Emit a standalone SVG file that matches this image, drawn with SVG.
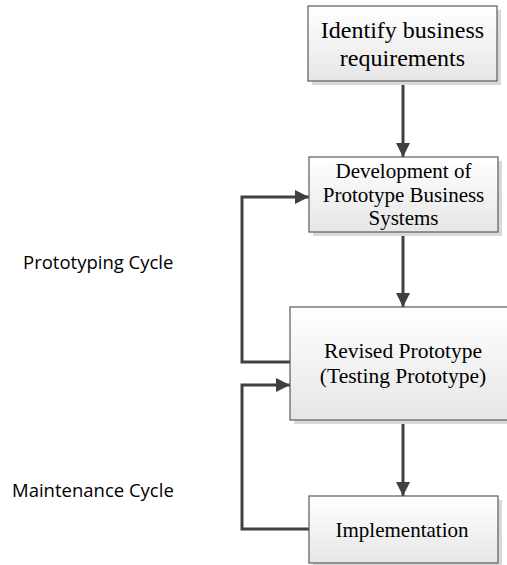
<svg xmlns="http://www.w3.org/2000/svg" width="507" height="565" viewBox="0 0 507 565">
  <defs>
    <linearGradient id="boxfill" x1="0" y1="0" x2="0" y2="1">
      <stop offset="0" stop-color="#ffffff"/>
      <stop offset="1" stop-color="#e6e6e6"/>
    </linearGradient>
    <marker id="arrow" viewBox="0 0 14 14" refX="14" refY="7" markerWidth="14" markerHeight="14" markerUnits="userSpaceOnUse" orient="auto">
      <path d="M0,0 L14,7 L0,14 Z" fill="#404040"/>
    </marker>
  </defs>
  <style>
    .box { fill: url(#boxfill); stroke: #5a5a5a; stroke-width: 1.2; }
    .shadow { fill: #d9d9d9; }
    .t { font-family: "Liberation Serif", "Times New Roman", serif; fill: #000000; text-anchor: middle; }
    .lbl { font-family: "Open Sans", "Noto Sans", sans-serif; font-size: 18.5px; fill: #000000; }
    .conn { fill: none; stroke: #404040; stroke-width: 3; }
  </style>
  <rect width="507" height="565" fill="#ffffff"/>

  <g id="connectors">
    <path class="conn" d="M403,81 L403,157" marker-end="url(#arrow)"/>
    <path class="conn" d="M403,232 L403,307" marker-end="url(#arrow)"/>
    <path class="conn" d="M403,420 L403,496" marker-end="url(#arrow)"/>
    <path class="conn" d="M290,362 L242,362 L242,197 L309,197" marker-end="url(#arrow)"/>
    <path class="conn" d="M309,529 L242,529 L242,385 L290,385" marker-end="url(#arrow)"/>
  </g>

  <g id="node-identify">
    <rect class="shadow" x="312" y="10" width="189" height="75"/>
    <rect class="box" x="308" y="6" width="189" height="75"/>
    <text class="t" font-size="24" x="402.5" y="37.5">Identify business</text>
    <text class="t" font-size="24" x="402.5" y="65.5">requirements</text>
  </g>

  <g id="node-development">
    <rect class="shadow" x="313" y="161" width="189" height="75"/>
    <rect class="box" x="309" y="157" width="189" height="75"/>
    <text class="t" font-size="21" x="403.5" y="178">Development of</text>
    <text class="t" font-size="21" x="403.5" y="201.5">Prototype Business</text>
    <text class="t" font-size="21" x="403.5" y="225">Systems</text>
  </g>

  <g id="node-revised">
    <rect class="shadow" x="294" y="311" width="226" height="113"/>
    <rect class="box" x="290" y="307" width="226" height="113"/>
    <text class="t" font-size="21.5" x="403" y="358">Revised Prototype</text>
    <text class="t" font-size="21.5" x="403" y="383">(Testing Prototype)</text>
  </g>

  <g id="node-implementation">
    <rect class="shadow" x="313" y="500" width="189" height="67"/>
    <rect class="box" x="309" y="496" width="189" height="67"/>
    <text class="t" font-size="21" x="402" y="537">Implementation</text>
  </g>

  <g id="label-prototyping">
    <text class="lbl" x="23" y="269">Prototyping Cycle</text>
  </g>
  <g id="label-maintenance">
    <text class="lbl" x="12" y="497">Maintenance Cycle</text>
  </g>
</svg>
